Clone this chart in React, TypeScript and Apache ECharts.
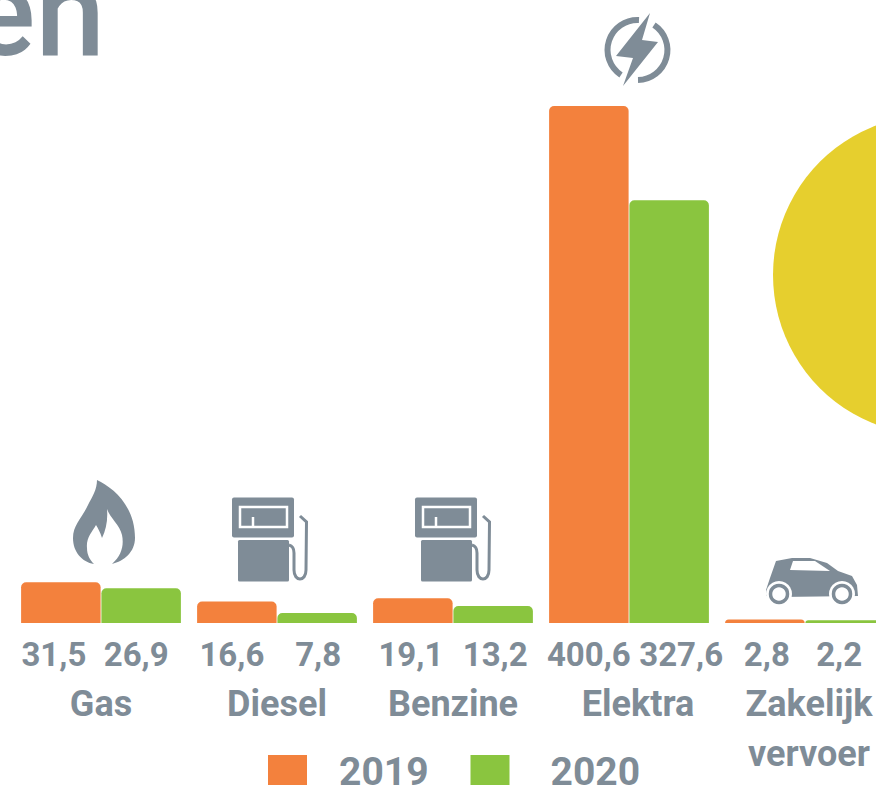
import React, { useEffect, useRef } from "react";
import * as echarts from "echarts";

const categories = ["Gas", "Diesel", "Benzine", "Elektra", "Zakelijk\nvervoer"];
const values2019 = [31.5, 16.6, 19.1, 400.6, 2.8];
const values2020 = [26.9, 7.8, 13.2, 327.6, 2.2];
const nudge2019 = [-7, -5, -2, 0, 2];
const nudge2020 = [-5, 1, 2, 12, -6];
const categoryPad = [0, 0, 0, 18, 8];

const GREY = "#7f8c97";
const ORANGE = "#f3813d";
const GREEN = "#8ac53f";
const YELLOW = "#e6cf2e";
const FONT = "Roboto";

const flame = "M97 480C112 487 135 505 135 538C135 552 124 561 112 564C122 555 124 545 122 535C120 525 110 518 107 509C108 520 106 530 102 538C100 532 98 528 96 525C92 532 86 538 87 548C87 555 90 560 94 564C82 562 73 552 73 538C73 525 82 518 88 505C92 497 97 490 97 480Z";
const hose = "M289 545C293 546 294 549 294 553L294 570C294 582 306 582 306 570L306.5 522L300 516";
const bolt = "M650 13L616 56L633 58L623 86L658 42L642 40Z";
const arcs = "M639 20A30 30 0 0 0 621 75M654 25A30 30 0 0 1 638 80";
const car = "M766 590L770 578L776 561L792 558L810 558L827 563L838 571L852 576L857 585L858 596L780 597L766 596Z";

echarts.graphic.registerShape("flame", echarts.graphic.extendPath(flame, {}));
echarts.graphic.registerShape("hose", echarts.graphic.extendPath(hose, {}));
echarts.graphic.registerShape("bolt", echarts.graphic.extendPath(bolt, {}));
echarts.graphic.registerShape("arcs", echarts.graphic.extendPath(arcs, {}));
echarts.graphic.registerShape("car", echarts.graphic.extendPath(car, {}));

const pump = (dx: number) => ({
  type: "group",
  x: dx,
  y: 0,
  silent: true,
  children: [
    { type: "rect", shape: { x: 232, y: 497.5, width: 62, height: 40, r: 2 }, style: { fill: GREY } },
    { type: "rect", shape: { x: 240, y: 507, width: 47, height: 20 }, style: { fill: GREY, stroke: "#fff", lineWidth: 2.5 } },
    { type: "line", shape: { x1: 253, y1: 517, x2: 253, y2: 527 }, style: { stroke: "#fff", lineWidth: 2.5 } },
    { type: "rect", shape: { x: 238, y: 540, width: 51, height: 41.5, r: 1.5 }, style: { fill: GREY } },
    { type: "hose", style: { fill: "none", stroke: GREY, lineWidth: 3 } },
  ],
});

const wheel = (cx: number, cy: number) => [
  { type: "circle", shape: { cx, cy, r: 13 }, style: { fill: "#fff" } },
  { type: "circle", shape: { cx, cy, r: 8.5 }, style: { fill: "#fff", stroke: GREY, lineWidth: 3.5 } },
];

function buildOption() {
  const withNudge = (values: number[], nudge: number[]) =>
    values.map((value, i) => ({
      value,
      label: { offset: [nudge[i], 0] },
    }));
  const barLabel = {
    show: true,
    position: "bottom",
    distance: 15,
    color: GREY,
    fontFamily: FONT,
    fontWeight: "bold",
    fontSize: 33,
    formatter: (p: any) => String(p.value).replace(".", ","),
  };
  const legendText = { color: GREY, fontFamily: FONT, fontWeight: "bold", fontSize: 39 };
  return {
    animation: false,
    backgroundColor: "#fff",
    grid: { left: 13, top: 106, width: 880, height: 517, outerBoundsMode: "none" },
    xAxis: {
      type: "category",
      data: categories.map((value, i) => ({
        value,
        textStyle: { padding: [0, 0, 0, categoryPad[i]] },
      })),
      axisLine: { show: false },
      axisTick: { show: false },
      axisLabel: {
        interval: 0,
        margin: 56,
        color: GREY,
        fontFamily: FONT,
        fontWeight: "bold",
        fontSize: 36,
        lineHeight: 50,
      },
    },
    yAxis: { type: "value", min: 0, max: 400.6, show: false, splitLine: { show: false } },
    legend: {
      left: 268,
      top: 752,
      padding: 0,
      itemWidth: 39,
      itemHeight: 33,
      itemGap: 42,
      icon: "rect",
      data: ["2019", "2020"],
      formatter: (name: string) => (name === "2019" ? `{a|${name}}` : `{b|${name}}`),
      textStyle: {
        ...legendText,
        rich: {
          a: { ...legendText, padding: [0, 0, 0, 27] },
          b: { ...legendText, padding: [0, 0, 0, 36] },
        },
      },
    },
    series: [
      {
        name: "2019",
        type: "bar",
        barWidth: 79.5,
        barGap: "1%",
        data: withNudge(values2019, nudge2019),
        itemStyle: { color: ORANGE, borderRadius: [5, 5, 0, 0] },
        label: barLabel,
      },
      {
        name: "2020",
        type: "bar",
        barWidth: 79.5,
        data: withNudge(values2020, nudge2020),
        itemStyle: { color: GREEN, borderRadius: [5, 5, 0, 0] },
        label: barLabel,
      },
    ],
    graphic: [
      { type: "circle", silent: true, z: 5, shape: { cx: 933, cy: 275, r: 160 }, style: { fill: YELLOW } },
      {
        type: "text",
        silent: true,
        x: 105,
        y: 75,
        style: {
          text: "en",
          fill: GREY,
          font: `500 125px ${FONT}`,
          textAlign: "right",
          textVerticalAlign: "bottom",
        },
      },
      { type: "flame", silent: true, style: { fill: GREY } },
      pump(0),
      pump(183),
      { type: "arcs", silent: true, style: { fill: "none", stroke: GREY, lineWidth: 6 } },
      { type: "bolt", silent: true, style: { fill: GREY } },
      { type: "car", silent: true, style: { fill: GREY } },
      { type: "polygon", silent: true, shape: { points: [[793, 561], [815, 561], [830, 571], [790, 570]] }, style: { fill: "#fff" } },
      ...wheel(779, 594),
      ...wheel(842, 594),
    ],
  };
}

export default function App() {
  const ref = useRef<HTMLDivElement>(null);
  useEffect(() => {
    const chart = echarts.init(ref.current!, undefined, { renderer: "svg" });
    chart.setOption(buildOption() as any);
    return () => chart.dispose();
  }, []);
  return <div ref={ref} style={{ position: "fixed", left: 0, top: 0, width: 876, height: 785, overflow: "hidden" }} />;
}
